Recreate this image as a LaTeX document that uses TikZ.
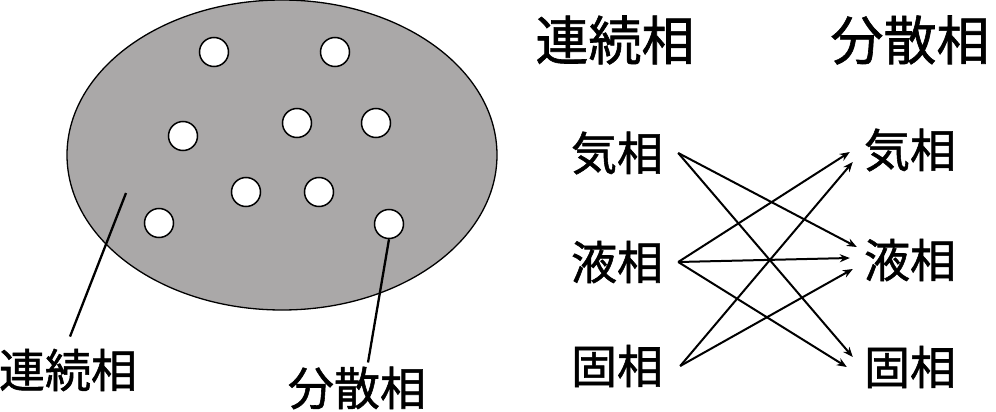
\documentclass[tikz,border=0pt]{standalone}
\usepackage{fontspec}
\newfontfamily\jpfont[FakeBold=1.2]{Noto Sans CJK JP}
\usetikzlibrary{arrows.meta,positioning}
\definecolor{matrixgray}{RGB}{170,168,168}

\begin{document}
\begin{tikzpicture}[x=1pt, y=-1pt,
      phase/.style={inner sep=0pt, font=\jpfont\fontsize{46}{50}\selectfont},
      head/.style={inner sep=0pt, font=\jpfont\fontsize{53}{58}\selectfont},
      drop/.style={circle, draw=black, line width=1.5pt, fill=white, minimum size=29pt, inner sep=0pt},
      flow/.style={-{Stealth[length=10pt, width=8pt]}, line width=2pt},
      lead/.style={line width=2.3pt}]
    \useasboundingbox (0,0) rectangle (996,412);
    % continuous phase with dispersed droplets
    \draw[fill=matrixgray, line width=1.3pt] (282,155) ellipse [x radius=215, y radius=155];
    \foreach \x/\y/\k in {214/52/1, 335/52/2, 183/136/3, 297/123/4, 376/123/5,
                          246/192/6, 319/192/7, 159/223/8, 389/224/9}{
      \node[drop] (d\k) at (\x,\y) {};
    }
    \coordinate (cpt) at (126,193);
    \node[phase] (cont) at (68,370) {連続相};
    \node[phase] (disp) at (357,388) {分散相};
    \draw[lead] (cpt) -- ([xshift=2pt, yshift=12pt]cont.north);
    \draw[lead] (d9.south) -- ([xshift=11pt, yshift=4pt]disp.north);
    % phase combinations
    \node[head] (hcont) at (615,40) {連続相};
    \node[head] (hdisp) at (910,40) {分散相};
    \node[phase] (gL) at (617,153) {気相};
    \node[phase] (lL) at (617,262) {液相};
    \node[phase] (sL) at (617,366) {固相};
    \node[phase] (gR) at (910,150) {気相};
    \node[phase] (lR) at (910,260) {液相};
    \node[phase] (sR) at (910,367) {固相};
    \draw[flow] ([xshift=15pt]gL.east) -- ([xshift=-7pt, yshift=13pt]lR.west);
    \draw[flow] ([xshift=15pt]gL.east) -- ([xshift=-11pt, yshift=10pt]sR.west);
    \draw[flow] ([xshift=15pt]lL.east) -- ([xshift=-14pt, yshift=-2pt]gR.west);
    \draw[flow] ([xshift=15pt]lL.east) -- ([xshift=-14pt, yshift=2pt]lR.west);
    \draw[flow] ([xshift=15pt]lL.east) -- ([xshift=-17pt]sR.west);
    \draw[flow] ([xshift=17pt]sL.east) -- ([xshift=-11pt, yshift=-12pt]gR.west);
    \draw[flow] ([xshift=17pt]sL.east) -- ([xshift=-11pt, yshift=-9pt]lR.west);
\end{tikzpicture}
\end{document}
